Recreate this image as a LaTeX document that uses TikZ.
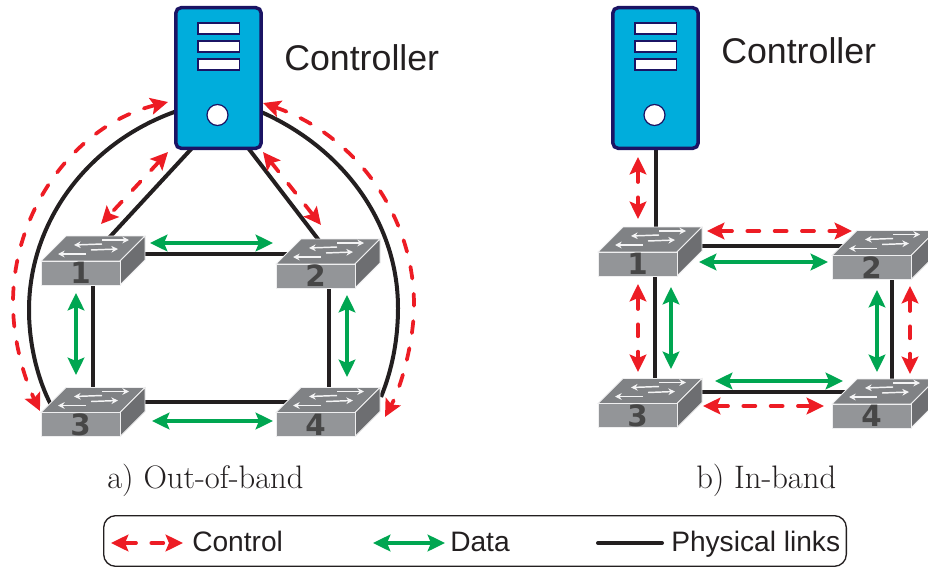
\documentclass[tikz,border=0pt]{standalone}
\usepackage{fontspec}
\setsansfont{Liberation Sans}
\newfontfamily\numfont{DejaVu Sans}
\usetikzlibrary{arrows.meta,backgrounds}
\definecolor{ctrlred}{HTML}{ED1C24}
\definecolor{datagreen}{HTML}{00A651}
\definecolor{linkblack}{HTML}{231F20}
\definecolor{serverblue}{HTML}{00ADDC}
\definecolor{servernavy}{HTML}{1B1464}
\definecolor{switchgrey}{HTML}{939598}
\definecolor{switchmid}{HTML}{808285}
\definecolor{switchdark}{HTML}{6D6E71}
\tikzset{
  physlink/.style={line width=3pt,draw=linkblack},
  ctrlarrow/.style={line width=2.8pt,draw=ctrlred,line cap=round,dash pattern=on 9pt off 11.5pt,
    {Stealth[length=13pt,width=12.5pt,inset=2.5pt,fill=ctrlred]}-{Stealth[length=13pt,width=12.5pt,inset=2.5pt,fill=ctrlred]}},
  dataarrow/.style={line width=2.8pt,draw=datagreen,
    {Stealth[length=13pt,width=12.5pt,inset=2.5pt,fill=datagreen]}-{Stealth[length=13pt,width=12.5pt,inset=2.5pt,fill=datagreen]}},
  switchfront/.style={rectangle,draw=white!85!switchgrey,line width=.6pt,fill=switchgrey,minimum width=59.25pt,minimum height=18pt,inner sep=0pt},
  switchtop/.style={draw=white!85!switchgrey,line width=.6pt,fill=switchmid},
  switchside/.style={draw=white!85!switchgrey,line width=.6pt,fill=switchdark},
  switchnum/.style={font=\numfont\bfseries\fontsize{22}{22}\selectfont,text=black!72,inner sep=0pt},
  tinyarrow/.style={white!90!switchgrey,line width=1.1pt,-{Stealth[length=5pt,width=5pt]}},
  servertower/.style={rectangle,rounded corners=4pt,draw=servernavy,line width=2.6pt,fill=serverblue,minimum width=64pt,minimum height=105.5pt,inner sep=0pt},
  biglabel/.style={font=\sffamily\fontsize{26.8}{30}\selectfont,text=linkblack,anchor=base west,inner sep=0pt},
  caption/.style={font=\fontsize{24.4}{26}\selectfont,text=linkblack,anchor=base west,inner sep=0pt},
  keylabel/.style={font=\sffamily\fontsize{21.1}{24}\selectfont,text=linkblack,anchor=base west,inner sep=0pt}
}
% one switch: name, centre of front face, number
\newcommand{\switchbox}[4]{
  \begin{scope}[shift={(#2,#3)}]
    \draw[switchtop] (-39.5,-12) -- (-14.5,-37) -- (64.5,-37) -- (39.5,-12) -- cycle;
    \draw[switchside] (39.5,-12) -- (64.5,-37) -- (64.5,-13) -- (39.5,12) -- cycle;
    \draw[tinyarrow] (21.5,-29) -- (-6.5,-28);
    \draw[tinyarrow] (21.5,-33) -- (48.5,-33);
    \draw[tinyarrow] (5.5,-19) -- (-22.5,-19);
    \draw[tinyarrow] (10.5,-23) -- (37.5,-24);
  \end{scope}
  \node[switchfront] (#1) at (#2,#3) {};
  \node[switchnum] (#1num) at (#1) {#4};
}
% one controller: name, centre
\newcommand{\towerbox}[3]{
  \node[servertower] (#1) at (#2,#3) {};
  \begin{scope}[shift={(#2,#3)}]
    \foreach \slot in {-49.5,-31.5,-13.5}
      \draw[servernavy,line width=.9pt,fill=white] (-20.5,\slot-5.5) rectangle (21,\slot+5.5);
    \draw[servernavy,line width=.9pt,fill=white] (-1,37) circle (10.5);
  \end{scope}
}
\begin{document}
\begin{tikzpicture}[x=0.75pt,y=-0.75pt]
  \useasboundingbox (0,0) rectangle (928,567);

  % Switches and controllers
  \foreach \n/\x/\y/\t in {a1/80.5/273/1,a2/315.5/276/2,a3/80.5/424.5/3,a4/315.5/424.5/4,
                           b1/637.5/264/1,b2/871.5/267.5/2,b3/637.5/415.5/3,b4/871.5/416/4}
    \switchbox{\n}{\x}{\y}{\t};
  \towerbox{ctrla}{218.5}{78}
  \towerbox{ctrlb}{655.5}{78}
  \node[biglabel] (namea) at (284,70) {Controller};
  \node[biglabel] (nameb) at (721,64) {Controller};

  % Physical links
  \begin{pgfonlayer}{background}
    \draw[physlink] ([shift={(60,-19)}]a1.center) -- ([shift={(-25,-22)}]a2.center);
    \draw[physlink] ([shift={(60,-23)}]a3.center) -- ([shift={(-25,-23)}]a4.center);
    \draw[physlink] ([shift={(12.5,0)}]a1.center) -- ([shift={(12.5,-20)}]a3.center);
    \draw[physlink] ([shift={(13.5,0)}]a2.center) -- ([shift={(13.5,-20)}]a4.center);
    \draw[physlink] ([shift={(-19,62)}]ctrla.center) -- ([shift={(26.5,-33)}]a1.center);
    \draw[physlink] ([shift={(23.5,62)}]ctrla.center) -- ([shift={(5.5,-33)}]a2.center);
    \draw[physlink] ([shift={(-38.5,32)}]ctrla.center) .. controls (90,140) and (29,220) .. (29,310)
      .. controls (29,345) and (38,380) .. ([shift={(-29.5,-19.5)}]a3.center);
    \draw[physlink] ([shift={(38,32)}]ctrla.center) .. controls (340,145) and (398,220) .. (398,308)
      .. controls (398,340) and (392,370) .. ([shift={(65.5,-27.5)}]a4.center);
    \draw[physlink] ([shift={(.5,60)}]ctrlb.center) -- ([shift={(18.5,-27)}]b1.center);
    \draw[physlink] ([shift={(17.5,0)}]b1.center) -- ([shift={(17.5,-27)}]b3.center);
    \draw[physlink] ([shift={(55,-18)}]b1.center) -- ([shift={(-25,-21.5)}]b2.center);
    \draw[physlink] ([shift={(55,-23.5)}]b3.center) -- ([shift={(-25,-24)}]b4.center);
    \draw[physlink] ([shift={(20.5,0)}]b2.center) -- ([shift={(20.5,-28)}]b4.center);
  \end{pgfonlayer}

  % Control arrows
  \draw[ctrlarrow] ([shift={(-50.5,24)}]ctrla.center) .. controls (75,125) and (13,210) .. (13,303)
    .. controls (13,342) and (25,380) .. ([shift={(-40.5,-13.5)}]a3.center);
  \draw[ctrlarrow] ([shift={(44.5,25)}]ctrla.center) .. controls (355,135) and (414,215) .. (414,305)
    .. controls (414,340) and (402,385) .. ([shift={(69.5,-7.5)}]a4.center);
  \draw[ctrlarrow] ([shift={(-50.5,74)}]ctrla.center) -- ([shift={(20.5,-49)}]a1.center);
  \draw[ctrlarrow] ([shift={(44.5,74)}]ctrla.center) -- ([shift={(5.5,-51)}]a2.center);
  \draw[ctrlarrow] ([shift={(-17.5,79)}]ctrlb.center) -- ([shift={(.5,-45)}]b1.center);
  \draw[ctrlarrow] ([shift={(.5,20)}]b1.center) -- ([shift={(.5,-43.5)}]b3.center);
  \draw[ctrlarrow] ([shift={(69.5,-33)}]b1.center) -- ([shift={(-19.5,-36.5)}]b2.center);
  \draw[ctrlarrow] ([shift={(65.5,-9.5)}]b3.center) -- ([shift={(-47.5,-10)}]b4.center);
  \draw[ctrlarrow] ([shift={(38.5,18.5)}]b2.center) -- ([shift={(38.5,-42)}]b4.center);

  % Data arrows
  \draw[dataarrow] ([shift={(69.5,-30)}]a1.center) -- ([shift={(-42.5,-33)}]a2.center);
  \draw[dataarrow] ([shift={(71.5,-3.5)}]a3.center) -- ([shift={(-42.5,-3.5)}]a4.center);
  \draw[dataarrow] ([shift={(-4.5,20)}]a1.center) -- ([shift={(-4.5,-49.5)}]a3.center);
  \draw[dataarrow] ([shift={(31.5,19)}]a2.center) -- ([shift={(31.5,-47.5)}]a4.center);
  \draw[dataarrow] ([shift={(61.5,-2)}]b1.center) -- ([shift={(-43.5,-5.5)}]b2.center);
  \draw[dataarrow] ([shift={(77.5,-34.5)}]b3.center) -- ([shift={(-28.5,-35)}]b4.center);
  \draw[dataarrow] ([shift={(33.5,23)}]b1.center) -- ([shift={(33.5,-46.5)}]b3.center);
  \draw[dataarrow] ([shift={(5.5,22.5)}]b2.center) -- ([shift={(5.5,-44)}]b4.center);

  % Captions
  \node[caption] (capa) at (107,488) {a) Out-of-band};
  \node[caption] (capb) at (696,488) {b) In-band};

  % Legend
  \node[rectangle,rounded corners=9pt,draw=linkblack,line width=1pt,minimum width=557pt,minimum height=38pt,inner sep=0pt] (keybox) at (475,541) {};
  \coordinate (keyctrla) at (111,543);
  \coordinate (keyctrlb) at (183,543);
  \coordinate (keydataa) at (373,543);
  \coordinate (keydatab) at (445,543);
  \coordinate (keylinka) at (598,543);
  \coordinate (keylinkb) at (662,543);
  \draw[ctrlarrow] (keyctrla) -- (keyctrlb);
  \draw[dataarrow] (keydataa) -- (keydatab);
  \draw[physlink,line cap=round] (keylinka) -- (keylinkb);
  \node[keylabel] (keyctrl) at (192,551) {Control};
  \node[keylabel] (keydata) at (450,551) {Data};
  \node[keylabel] (keylink) at (671,551) {Physical links};
\end{tikzpicture}
\end{document}
